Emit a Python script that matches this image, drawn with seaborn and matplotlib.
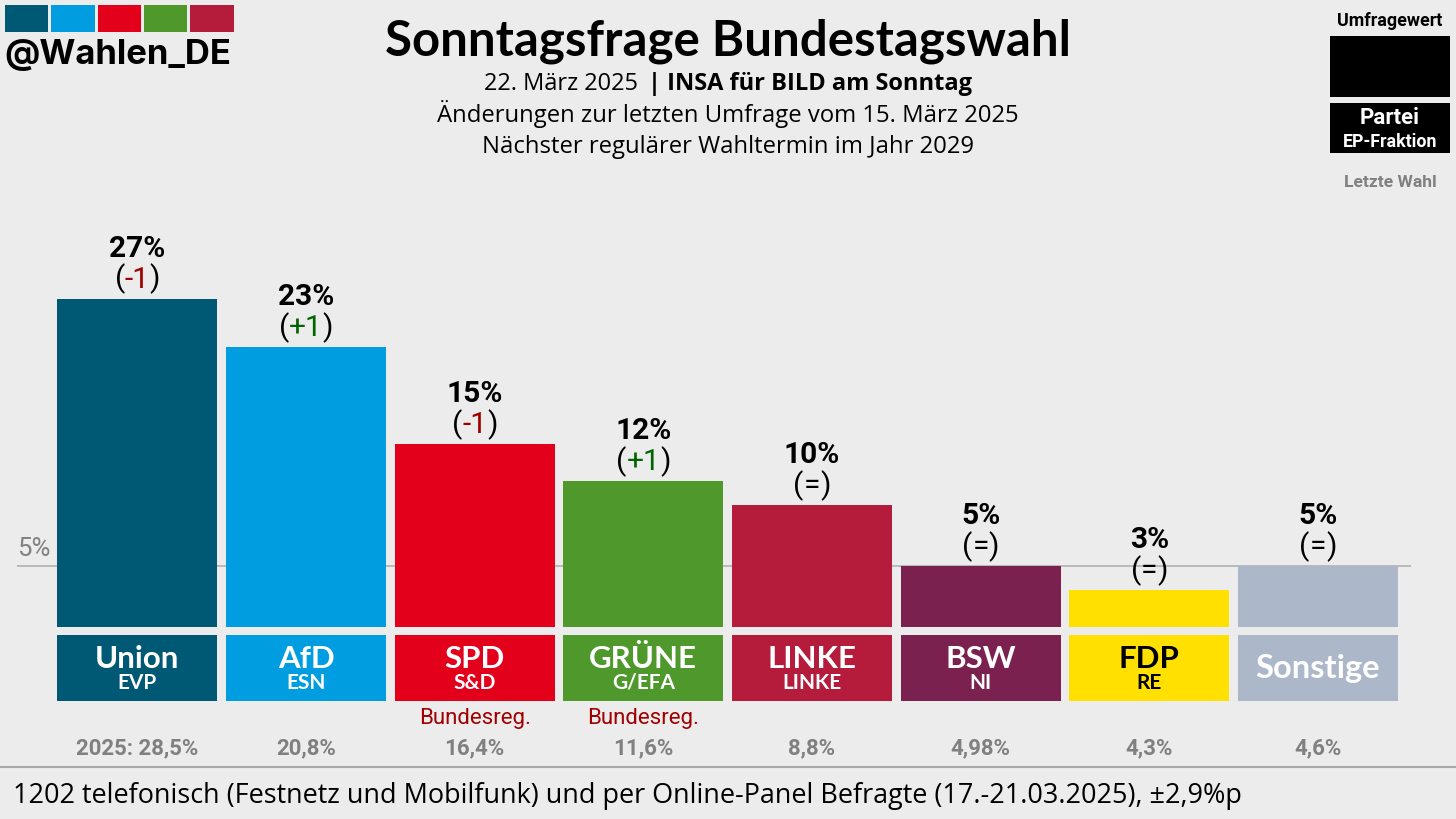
import matplotlib
matplotlib.use("Agg")
import matplotlib.pyplot as plt
from matplotlib.patches import Rectangle
import pandas as pd
import seaborn as sns

parties = ["Union", "AfD", "SPD", "GRÜNE", "LINKE", "BSW", "FDP", "Sonstige"]
factions = ["EVP", "ESN", "S&D", "G/EFA", "LINKE", "NI", "RE", ""]
values = [27, 23, 15, 12, 10, 5, 3, 5]
changes = ["-1", "+1", "-1", "+1", "=", "=", "=", "="]
last_vote = ["2025: 28,5%", "20,8%", "16,4%", "11,6%", "8,8%", "4,98%", "4,3%", "4,6%"]
notes = ["", "", "Bundesreg.", "Bundesreg.", "", "", "", ""]
colors = ["#005974", "#009ee0", "#e2001a", "#4f992c", "#b51c3c", "#7a2150", "#ffe000", "#acb8ca"]

BG = "#ececec"
W, H = 1456, 820
BASE_Y = 627.6    # pixel row of the bar baseline
PX_PER_PCT = 12.15
X0, STEP = 137.4, 168.65

sns.set_theme(style="white")
plt.rcParams["font.family"] = ["Roboto", "DejaVu Sans"]
plt.rcParams["axes.unicode_minus"] = False

df = pd.DataFrame({"party": parties, "value": values})

fig = plt.figure(figsize=(W / 100, H / 100), dpi=100, facecolor=BG)

# bars: axes spans the full width, baseline sits at BASE_Y
ax = fig.add_axes([0, 1 - BASE_Y / H, 1, BASE_Y / H])
ax.set_facecolor("none")
ax.set_xlim(-X0 / STEP, (W - X0) / STEP)
ax.set_ylim(0, BASE_Y / PX_PER_PCT)
ax.hlines(5, (17 - X0) / STEP, (1411 - X0) / STEP, color="#b0b0b0", lw=1.2, zorder=0)
sns.barplot(data=df, x="party", y="value", hue="party", palette=colors, order=parties,
            hue_order=parties, legend=False, width=0.948, gap=0, saturation=1, ax=ax,
            zorder=2, linewidth=0, edgecolor="none")
ax.set_xlim(-X0 / STEP, (W - X0) / STEP)
ax.axis("off")

# overlay in pixel coordinates for everything outside the bars
ov = fig.add_axes([0, 0, 1, 1], zorder=5)
ov.set_xlim(0, W)
ov.set_ylim(H, 0)
ov.axis("off")
renderer = fig.canvas.get_renderer()


def mixed(xc, y, parts, size, family=None):
    # centre several differently styled pieces on one line
    items = []
    for txt, col, weight in parts:
        t = ov.text(0, y, txt, color=col, fontweight=weight, fontsize=size,
                    family=family or "Roboto", va="baseline", ha="left")
        items.append((t, t.get_window_extent(renderer).width, txt))
    # trailing spaces are not measured, add them by hand
    space = size * 0.15 / 0.72
    total = sum(w + (space if s.endswith(" ") else 0) for _, w, s in items)
    x = xc - total / 2
    for t, w, s in items:
        t.set_x(x)
        x += w + (space if s.endswith(" ") else 0)


for i, party in enumerate(parties):
    xc = X0 + i * STEP
    top = BASE_Y - values[i] * PX_PER_PCT
    dark = party == "FDP"
    label_col = "black" if dark else "white"

    ov.add_patch(Rectangle((xc - 80, 635.5), 160, 66, color=colors[i], lw=0))
    if factions[i]:
        ov.text(xc, 668, party, color=label_col, ha="center", va="baseline", fontsize=22.5,
                family="Lato", fontweight="bold")
        ov.text(xc, 689, factions[i], color=label_col, ha="center", va="baseline", fontsize=15,
                family="Lato", fontweight="bold")
    else:
        ov.text(xc, 678, party, color="white", ha="center", va="baseline", fontsize=23.5,
                family="Lato", fontweight="bold")

    # value and change above each bar
    ov.text(xc, top - 43, f"{values[i]}%", color="black", ha="center", va="baseline",
            fontsize=21.5, fontweight="bold")
    ch = changes[i]
    ch_col = "#a00000" if ch.startswith("-") else "#006400" if ch.startswith("+") else "black"
    mixed(xc, top - 12, [("(", "black", "normal"), (ch, ch_col, "normal"), (")", "black", "normal")], 21.5)

    if notes[i]:
        ov.text(xc, 724, notes[i], color="#a00000", ha="center", va="baseline", fontsize=16)
    ov.text(xc, 754, last_vote[i], color="#808080", ha="center", va="baseline", fontsize=16,
            fontweight="bold")

ov.text(50, 556, "5%", color="#808080", ha="right", va="baseline", fontsize=18.5)

# header
ov.text(728, 55, "Sonntagsfrage Bundestagswahl", ha="center", va="baseline", color="black",
        fontsize=35.4, family="Lato", fontweight="bold")
mixed(728, 90, [("22. März 2025 ", "black", "normal"), ("| INSA für BILD am Sonntag", "black", "bold")],
      17, family="Open Sans")
ov.text(728, 122, "Änderungen zur letzten Umfrage vom 15. März 2025", ha="center", va="baseline",
        color="black", fontsize=17.2, family="Open Sans")
ov.text(728, 153, "Nächster regulärer Wahltermin im Jahr 2029", ha="center", va="baseline",
        color="black", fontsize=17.2, family="Open Sans")

# logo
for x, w, c in zip([5, 51, 98, 144, 190], [43, 44, 43, 43, 44], colors[:5]):
    ov.add_patch(Rectangle((x, 6), w, 27, color=c, lw=0))
ov.text(4, 64, "@Wahlen_DE", color="black", ha="left", va="baseline", fontsize=25,
        family="Inter", fontweight="bold")

# key at top right
ov.text(1390, 26, "Umfragewert", color="black", ha="center", va="baseline", fontsize=12.9, fontweight="bold")
ov.add_patch(Rectangle((1330, 36.5), 120, 61, color="black", lw=0))
ov.add_patch(Rectangle((1330, 103.5), 120, 50, color="black", lw=0))
ov.text(1390, 124, "Partei", color="white", ha="center", va="baseline", fontsize=16, fontweight="bold")
ov.text(1390, 147, "EP-Fraktion", color="white", ha="center", va="baseline", fontsize=12.8, fontweight="bold")
ov.text(1390, 187, "Letzte Wahl", color="#808080", ha="center", va="baseline", fontsize=12.6, fontweight="bold")

# footer
ov.hlines(768, 0, W, color="#a8a8a8", lw=1.5)
ov.text(13, 803, "1202 telefonisch (Festnetz und Mobilfunk) und per Online-Panel Befragte (17.-21.03.2025), ±2,9%p",
        color="black", ha="left", va="baseline", fontsize=19.43, family="Open Sans")

fig.savefig("out.png", dpi=100, facecolor=BG)
